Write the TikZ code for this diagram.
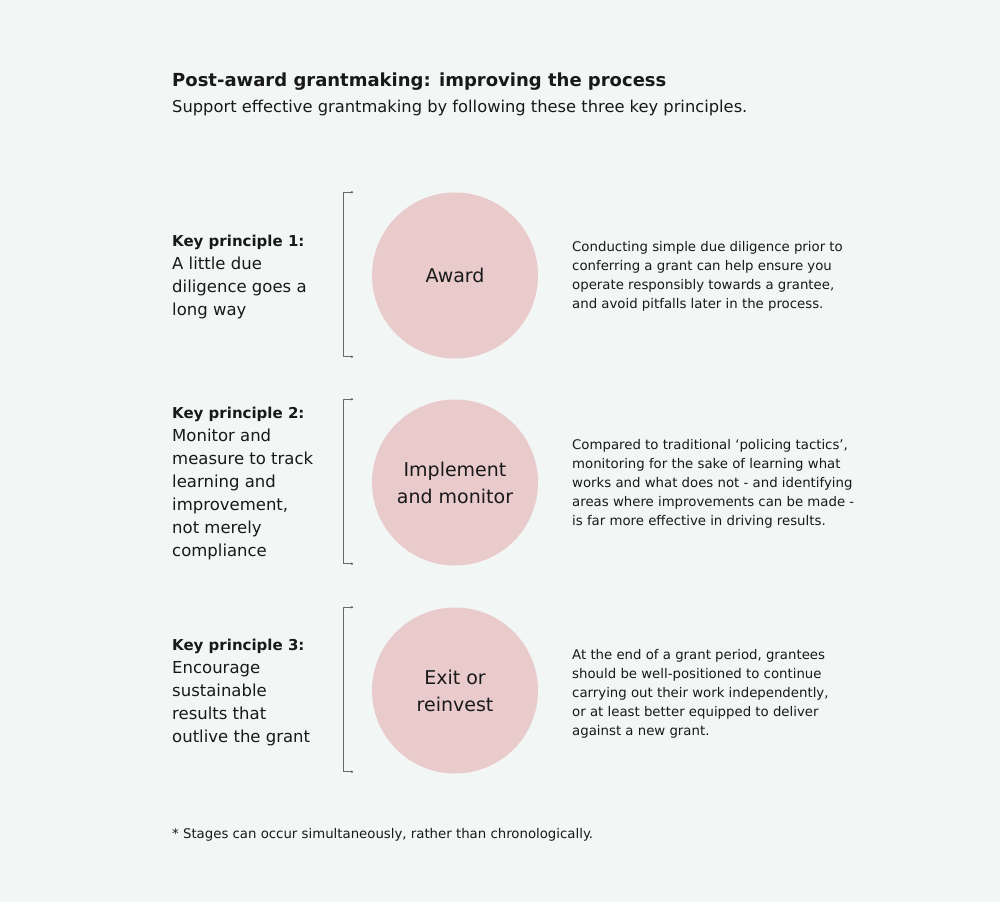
\documentclass[tikz,border=0pt]{standalone}
\usepackage{fontspec}
\setmainfont{DejaVu Sans}
\usetikzlibrary{positioning,arrows.meta}
\definecolor{cBg}{RGB}{242,246,245}
\definecolor{cStage}{RGB}{233,203,204}
\definecolor{cInk}{RGB}{25,25,25}
\definecolor{cBrk}{RGB}{105,105,105}
\newcommand{\keyhead}[1]{{\fontsize{15}{23}\selectfont\bfseries #1}}

\begin{document}
\begin{tikzpicture}[
  x=1pt, y=-1pt,
  stage/.style={circle, fill=cStage, minimum size=166pt, inner sep=0pt,
    align=center, text=cInk, font=\fontsize{19}{27}\selectfont},
  principle/.style={anchor=north west, inner sep=0pt, align=left, text=cInk,
    font=\fontsize{16.5}{23}\selectfont},
  note/.style={anchor=north west, inner sep=0pt, align=left, text=cInk,
    font=\fontsize{13.3}{19}\selectfont},
  brk/.style={cBrk, line width=0.7pt,
    {Circle[length=2.2pt]}-{Circle[length=2.2pt]}},
]
\fill[cBg] (0,0) rectangle (1000,902);

% Heading.
\node[anchor=north west, inner sep=0pt, text=cInk,
  font=\fontsize{18}{24}\selectfont\bfseries] (title) at (172,73)
  {Post-award grantmaking: improving the process};
\node[anchor=north west, inner sep=0pt, text=cInk,
  font=\fontsize{16.3}{20}\selectfont] (subtitle) at (172,100)
  {Support effective grantmaking by following these three key principles.};

% Stage 1.
\node[stage] (award) at (455,275.5) {Award};
\node[principle] (key1) at (172,235)
  {\keyhead{Key principle 1:}\\ A little due\\ diligence goes a\\ long way};
\node[note] (note1) at (572,241)
  {Conducting simple due diligence prior to\\ conferring a grant can help ensure you\\
   operate responsibly towards a grantee,\\ and avoid pitfalls later in the process.};

% Stage 2.
\node[stage] (implement) at (455,482.5) {Implement\\ and monitor};
\node[principle] (key2) at (172,407)
  {\keyhead{Key principle 2:}\\ Monitor and\\ measure to track\\ learning and\\
   improvement,\\ not merely\\ compliance};
\node[note] (note2) at (572,439)
  {Compared to traditional `policing tactics',\\ monitoring for the sake of learning what\\
   works and what does not - and identifying\\ areas where improvements can be made -\\
   is far more effective in driving results.};

% Stage 3.
\node[stage] (exit) at (455,690.5) {Exit or\\ reinvest};
\node[principle] (key3) at (172,639)
  {\keyhead{Key principle 3:}\\ Encourage\\ sustainable\\ results that\\ outlive the grant};
\node[note] (note3) at (572,649)
  {At the end of a grant period, grantees\\ should be well-positioned to continue\\
   carrying out their work independently,\\ or at least better equipped to deliver\\
   against a new grant.};

% Brackets beside each stage.
\draw[brk] ([xshift=-102pt]award.north) -- ([xshift=-112pt]award.north)
  -- ([xshift=-112pt,yshift=2pt]award.south) -- ([xshift=-102pt,yshift=2pt]award.south);
\draw[brk] ([xshift=-102pt]implement.north) -- ([xshift=-112pt]implement.north)
  -- ([xshift=-112pt,yshift=2pt]implement.south) -- ([xshift=-102pt,yshift=2pt]implement.south);
\draw[brk] ([xshift=-102pt]exit.north) -- ([xshift=-112pt]exit.north)
  -- ([xshift=-112pt,yshift=2pt]exit.south) -- ([xshift=-102pt,yshift=2pt]exit.south);

% Footnote.
\node[note] (foot) at (172,828)
  {* Stages can occur simultaneously, rather than chronologically.};

\end{tikzpicture}
\end{document}
